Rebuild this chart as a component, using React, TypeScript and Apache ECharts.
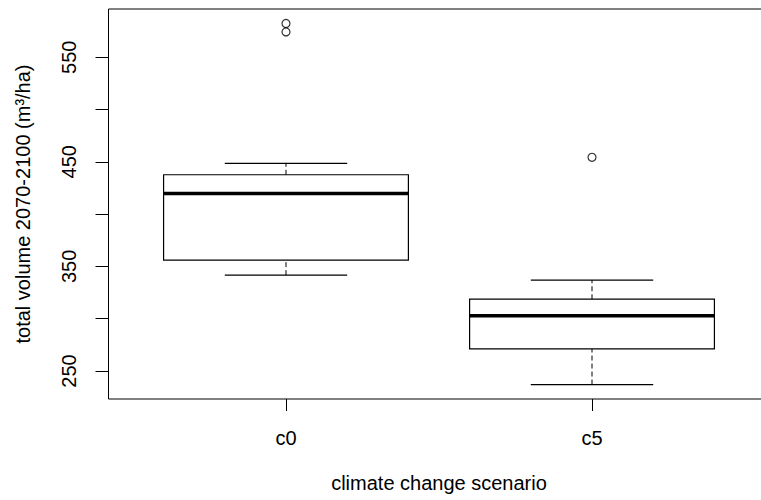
import React, { useEffect, useRef } from "react";
import * as echarts from "echarts";

const categories = ["c0", "c5"];
const whiskerLow = [341.6, 237.0];
const q1 = [356.0, 271.1];
const median = [419.8, 302.7];
const q3 = [437.6, 318.6];
const whiskerHigh = [448.5, 336.8];
const outlierGroup = [1, 1, 2];
const outlierValue = [582.3, 574.2, 454.3];
const yTickValues = [250, 300, 350, 400, 450, 500, 550];
const yLabelValues = [250, 350, 450, 550];

export default function App() {
  const ref = useRef<HTMLDivElement>(null);
  useEffect(() => {
    if (!ref.current) return;
    const chart = echarts.init(ref.current, null, { renderer: "svg" });
    const all = [...whiskerLow, ...whiskerHigh, ...outlierValue];
    const dMin = Math.min(...all);
    const dMax = Math.max(...all);
    const ext = (dMax - dMin) * 0.04;
    const n = categories.length;
    const xLo = 0.5 - n * 0.04;
    const xHi = n + 0.5 + n * 0.04;
    const boxData = categories.map((_, i) => [
      i + 1,
      whiskerLow[i],
      q1[i],
      median[i],
      q3[i],
      whiskerHigh[i],
    ]);
    const outData = outlierValue.map((v, i) => [outlierGroup[i], v]);
    const font = "'Liberation Sans', Arial, sans-serif";
    chart.setOption({
      animation: false,
      grid: {
        left: 108.5,
        top: 9,
        right: 130.5,
        bottom: 101,
        containLabel: false,
        outerBoundsMode: "none",
        show: true,
        borderColor: "#000",
        borderWidth: 1,
        backgroundColor: "transparent",
      },
      xAxis: {
        type: "value",
        min: xLo,
        max: xHi,
        axisLine: { show: false },
        splitLine: { show: false },
        axisTick: {
          show: true,
          customValues: categories.map((_, i) => i + 1),
          length: 12,
          lineStyle: { color: "#000", width: 1 },
        },
        axisLabel: {
          show: true,
          customValues: categories.map((_, i) => i + 1),
          formatter: (v: number) => categories[Math.round(v) - 1] ?? "",
          margin: 29,
          fontSize: 20,
          fontFamily: font,
          color: "#000",
        },
        name: "climate change scenario",
        nameLocation: "middle",
        nameGap: 74,
        nameTextStyle: { fontSize: 20, fontFamily: font, color: "#000" },
      },
      yAxis: {
        type: "value",
        min: dMin - ext,
        max: dMax + ext,
        axisLine: { show: false },
        splitLine: { show: false },
        axisTick: {
          show: true,
          customValues: yTickValues,
          length: 13,
          lineStyle: { color: "#000", width: 1 },
        },
        axisLabel: {
          show: true,
          customValues: yLabelValues,
          rotate: 90,
          margin: 30,
          fontSize: 20,
          fontFamily: font,
          color: "#000",
        },
        name: "total volume 2070-2100 (m³/ha)",
        nameLocation: "middle",
        nameRotate: 90,
        nameGap: 76,
        nameTextStyle: { fontSize: 20, fontFamily: font, color: "#000" },
      },
      series: [
        {
          type: "custom",
          data: boxData,
          encode: { x: 0, y: [1, 2, 3, 4, 5] },
          renderItem: (params: any, api: any) => {
            const x = api.value(0);
            const lo = api.value(1);
            const b1 = api.value(2);
            const md = api.value(3);
            const b3 = api.value(4);
            const hi = api.value(5);
            const c = (xv: number, yv: number) => api.coord([xv, yv]);
            const line = (p: number[], q: number[], w: number, dash?: number[]) => ({
              type: "line",
              shape: { x1: p[0], y1: p[1], x2: q[0], y2: q[1] },
              style: { stroke: "#000", lineWidth: w, lineDash: dash, fill: null },
            });
            const tl = c(x - 0.4, b3);
            const br = c(x + 0.4, b1);
            return {
              type: "group",
              children: [
                line(c(x, b3), c(x, hi), 1, [5, 3]),
                line(c(x, lo), c(x, b1), 1, [5, 3]),
                line(c(x - 0.2, hi), c(x + 0.2, hi), 1.2),
                line(c(x - 0.2, lo), c(x + 0.2, lo), 1.2),
                {
                  type: "rect",
                  shape: { x: tl[0], y: tl[1], width: br[0] - tl[0], height: br[1] - tl[1] },
                  style: { fill: "none", stroke: "#000", lineWidth: 1.2 },
                },
                line(c(x - 0.4, md), c(x + 0.4, md), 3.5),
              ],
            };
          },
        },
        {
          type: "scatter",
          data: outData,
          symbol: "circle",
          symbolSize: 8,
          itemStyle: { color: "rgba(0,0,0,0)", borderColor: "#000", borderWidth: 1.2 },
        },
      ],
    });
    return () => chart.dispose();
  }, []);
  return (
    <div
      style={{
        position: "fixed",
        left: 0,
        top: 0,
        width: 761,
        height: 500,
        overflow: "hidden",
        background: "#fff",
      }}
    >
      <div ref={ref} style={{ width: 900, height: 500 }} />
      <div
        style={{
          position: "absolute",
          left: 754,
          top: 11,
          width: 7,
          height: 386,
          background: "#fff",
          zIndex: 10,
        }}
      />
    </div>
  );
}
